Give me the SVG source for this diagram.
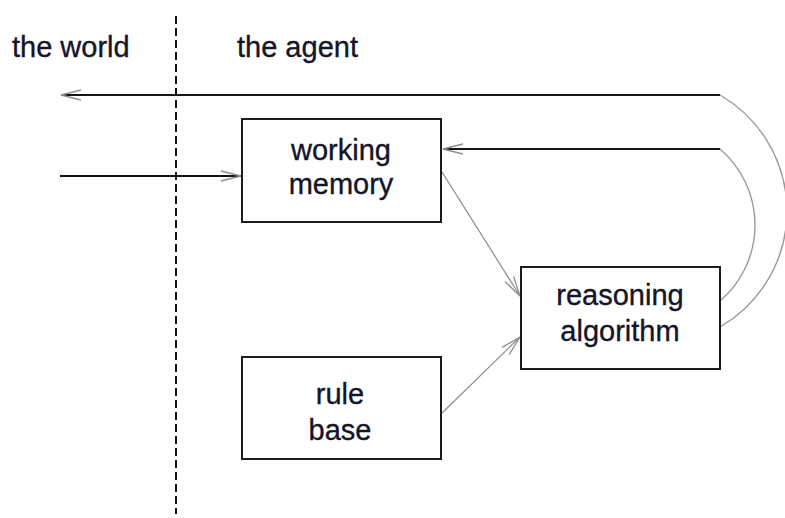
<svg xmlns="http://www.w3.org/2000/svg" width="785" height="518" viewBox="0 0 785 518">
  <style>
    .box { fill: #ffffff; stroke: #1c1c1c; stroke-width: 2; }
    .label { font-family: "Liberation Sans", Arial, sans-serif; font-size: 29px; fill: #14142a; stroke: #14142a; stroke-width: 0.35; }
    .mid { text-anchor: middle; }
    .main { fill: none; stroke: #151515; stroke-width: 2; }
    .thin { fill: none; stroke: #8a8a8a; stroke-width: 1.2; }
    .curve { fill: none; stroke: #9a9a9a; stroke-width: 1.4; }
    .divider { fill: none; stroke: #111111; stroke-width: 2; stroke-dasharray: 8 4; }
  </style>
  <defs>
    <marker id="openHead" markerUnits="userSpaceOnUse" viewBox="-22 -7 24 14" markerWidth="24" markerHeight="14" refX="0" refY="0" orient="auto">
      <path d="M-20,-5 L0,0 L-20,5" fill="none" stroke="#8f8f8f" stroke-width="1.3"/>
    </marker>
  </defs>

  <!-- boundary between world and agent -->
  <line class="divider" x1="176" y1="16" x2="176" y2="514"/>
  <text class="label" x="12" y="57">the world</text>
  <text class="label" x="237" y="57">the agent</text>

  <g id="connectors">
    <!-- action out to the world -->
    <path class="curve" d="M720,95 A134,134 0 0 1 720,327"/>
    <line class="main" x1="720" y1="95" x2="61" y2="95" marker-end="url(#openHead)"/>
    <!-- percepts in -->
    <line class="main" x1="60" y1="176" x2="241" y2="176" marker-end="url(#openHead)"/>
    <!-- update of working memory -->
    <path class="curve" d="M720,149 A100,100 0 0 1 720,301"/>
    <line class="main" x1="720" y1="149" x2="443" y2="149" marker-end="url(#openHead)"/>
    <!-- inputs to the reasoning algorithm -->
    <line class="thin" x1="442" y1="172" x2="520" y2="296" marker-end="url(#openHead)"/>
    <line class="thin" x1="442" y1="413" x2="520" y2="337" marker-end="url(#openHead)"/>
  </g>

  <g id="working-memory">
    <rect class="box" x="242" y="119" width="199" height="103"/>
    <text class="label mid" x="341" y="160">working</text>
    <text class="label mid" x="341" y="194">memory</text>
  </g>

  <g id="reasoning-algorithm">
    <rect class="box" x="521" y="267" width="199" height="102"/>
    <text class="label mid" x="620" y="305">reasoning</text>
    <text class="label mid" x="620" y="341">algorithm</text>
  </g>

  <g id="rule-base">
    <rect class="box" x="242" y="357" width="199" height="102"/>
    <text class="label mid" x="340" y="404">rule</text>
    <text class="label mid" x="340" y="440">base</text>
  </g>
</svg>
